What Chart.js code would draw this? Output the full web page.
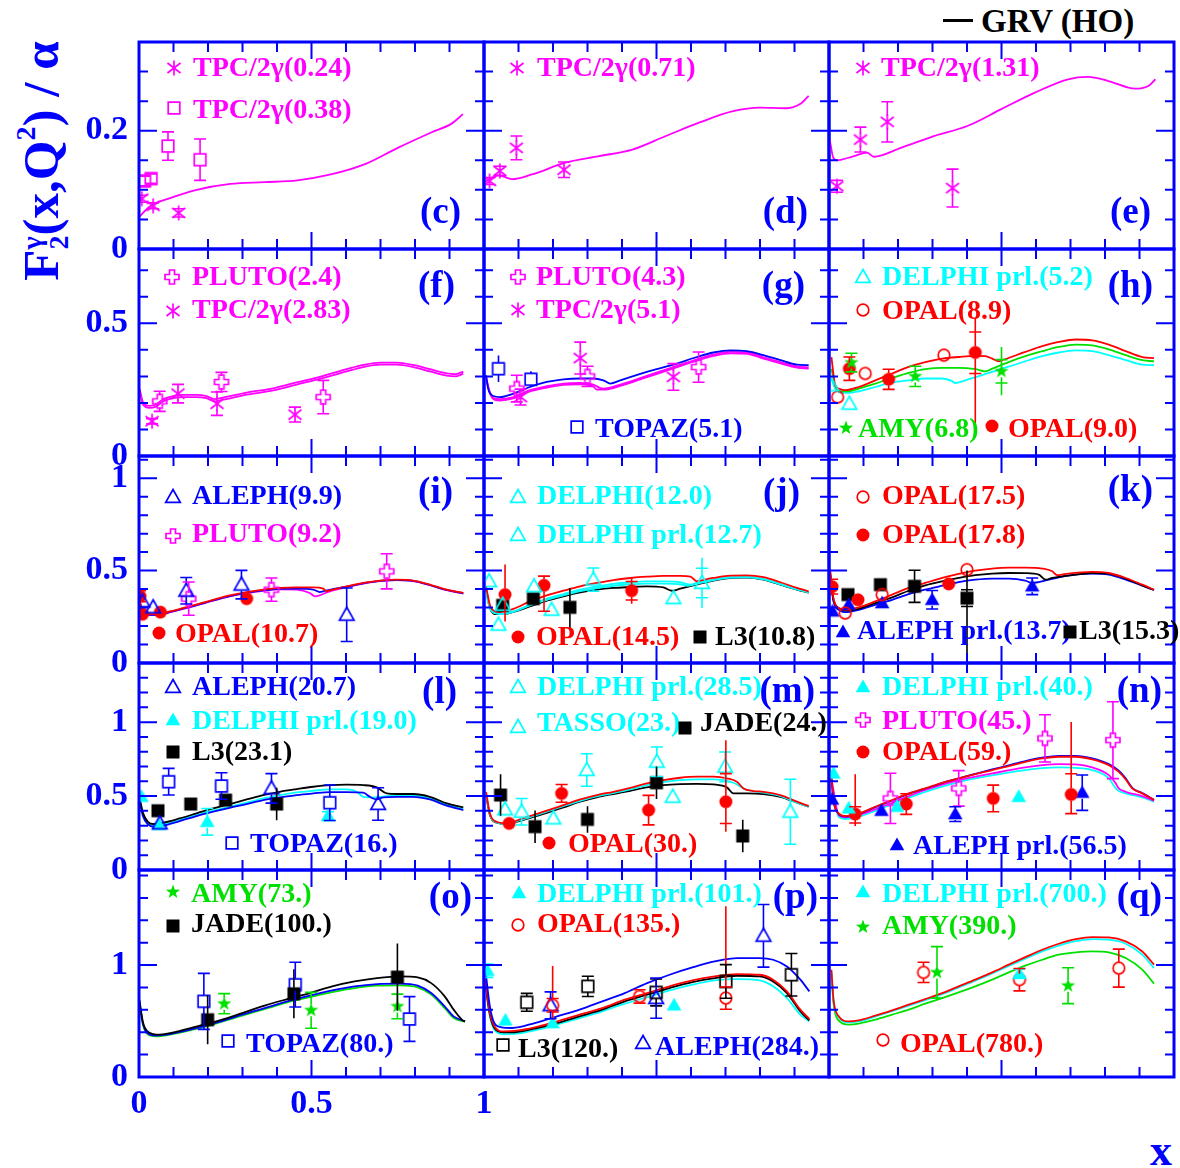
<!DOCTYPE html>
<html>
<head>
<meta charset="utf-8">
<script src="https://cdn.jsdelivr.net/npm/chart.js"></script>
<style>
body { margin: 0; background: #fff; }
#wrap { position: relative; width: 1180px; height: 1168px; overflow: hidden; background: #fff; }
#wrap canvas { position: absolute; }
.txt { position: absolute; white-space: nowrap; font-family: "Liberation Serif", "Times New Roman", serif; font-weight: bold; }
#ytitle { left: 42px; top: 161px; transform: translate(-50%, -50%) rotate(-90deg); font-size: 51px; color: #0000ff; }
#ytitle .ss { display: inline-block; font-size: 0.55em; line-height: 0.95; vertical-align: -0.35em; }
#ytitle .ss span { display: block; }
#ytitle sup { font-size: 0.55em; line-height: 0; vertical-align: 0.8em; }
#xtitle { left: 1161px; top: 1150px; transform: translate(-50%, -50%); font-size: 44px; color: #0000ff; }
#grvline { position: absolute; left: 943px; top: 19px; width: 30px; height: 3px; background: #000; }
#grvtext { left: 981px; top: 21px; transform: translateY(-50%); font-size: 33px; color: #000; }
</style>
</head>
<body>
<div id="wrap">
  <div class="txt" id="ytitle">F<span class="ss"><span>γ</span><span>2</span></span>(x,Q<sup>2</sup>) / α</div>
  <div class="txt" id="xtitle">x</div>
  <div id="grvline"></div>
  <div class="txt" id="grvtext">GRV (HO)</div>
</div>
<script>
// GRV (HO) curves, [x, F2/alpha]
const grvC = [[0.002,0.055],[0.031,0.072],[0.090,0.086],[0.167,0.100],[0.265,0.110],[0.362,0.113],[0.459,0.116],[0.556,0.126],[0.653,0.143],[0.750,0.171],[0.847,0.197],[0.906,0.212],[0.939,0.228]];
const grvD = [[0.003,0.113],[0.012,0.117],[0.042,0.125],[0.081,0.118],[0.139,0.126],[0.236,0.146],[0.333,0.157],[0.430,0.168],[0.527,0.191],[0.625,0.214],[0.722,0.233],[0.800,0.239],[0.877,0.238],[0.916,0.245],[0.941,0.259]];
const grvE = [[0.002,0.185],[0.012,0.155],[0.023,0.150],[0.072,0.157],[0.110,0.163],[0.130,0.156],[0.208,0.171],[0.304,0.191],[0.401,0.208],[0.498,0.236],[0.595,0.264],[0.693,0.287],[0.751,0.291],[0.810,0.284],[0.888,0.271],[0.927,0.276],[0.946,0.287]];
const grvF1 = [[0.002,0.252],[0.012,0.201],[0.031,0.189],[0.050,0.195],[0.070,0.214],[0.099,0.226],[0.128,0.230],[0.166,0.230],[0.195,0.226],[0.220,0.214],[0.244,0.220],[0.312,0.239],[0.389,0.255],[0.457,0.277],[0.534,0.302],[0.602,0.327],[0.650,0.343],[0.698,0.352],[0.747,0.352],[0.795,0.343],[0.843,0.327],[0.892,0.311],[0.916,0.308],[0.940,0.318]];
const grvF2 = [[0.002,0.244],[0.012,0.193],[0.031,0.181],[0.050,0.187],[0.070,0.206],[0.099,0.218],[0.128,0.222],[0.166,0.222],[0.195,0.218],[0.220,0.206],[0.244,0.212],[0.312,0.231],[0.389,0.247],[0.457,0.269],[0.534,0.294],[0.602,0.319],[0.650,0.335],[0.698,0.344],[0.747,0.344],[0.795,0.335],[0.843,0.319],[0.892,0.303],[0.916,0.300],[0.940,0.310]];
const grvGblue = [[0.006,0.304],[0.012,0.254],[0.027,0.226],[0.046,0.222],[0.085,0.235],[0.133,0.260],[0.182,0.279],[0.230,0.289],[0.279,0.292],[0.317,0.292],[0.346,0.285],[0.366,0.273],[0.395,0.285],[0.472,0.317],[0.549,0.344],[0.617,0.373],[0.665,0.390],[0.714,0.398],[0.762,0.395],[0.810,0.380],[0.859,0.361],[0.907,0.344],[0.941,0.342]];
const grvGmag1 = [[0.006,0.298],[0.017,0.241],[0.032,0.216],[0.046,0.214],[0.085,0.222],[0.133,0.248],[0.182,0.263],[0.230,0.273],[0.279,0.275],[0.317,0.269],[0.337,0.256],[0.346,0.254],[0.395,0.269],[0.472,0.302],[0.549,0.335],[0.617,0.364],[0.665,0.382],[0.714,0.392],[0.762,0.390],[0.810,0.372],[0.859,0.354],[0.907,0.338],[0.941,0.334]];
const grvGmag2 = [[0.006,0.292],[0.017,0.236],[0.032,0.211],[0.046,0.209],[0.085,0.217],[0.133,0.243],[0.182,0.258],[0.230,0.268],[0.279,0.270],[0.317,0.262],[0.327,0.250],[0.346,0.250],[0.395,0.264],[0.472,0.297],[0.549,0.330],[0.617,0.359],[0.665,0.377],[0.714,0.387],[0.762,0.385],[0.810,0.367],[0.859,0.349],[0.907,0.333],[0.941,0.329]];
const grvHred = [[0.007,0.373],[0.018,0.266],[0.028,0.254],[0.047,0.248],[0.086,0.260],[0.134,0.285],[0.183,0.311],[0.231,0.336],[0.279,0.354],[0.328,0.367],[0.376,0.373],[0.424,0.377],[0.453,0.376],[0.473,0.367],[0.492,0.357],[0.502,0.361],[0.569,0.392],[0.618,0.414],[0.666,0.430],[0.715,0.439],[0.763,0.436],[0.811,0.420],[0.860,0.395],[0.908,0.373],[0.942,0.369]];
const grvHgreen = [[0.007,0.329],[0.018,0.266],[0.033,0.244],[0.057,0.244],[0.086,0.254],[0.134,0.273],[0.183,0.294],[0.231,0.313],[0.279,0.327],[0.328,0.332],[0.376,0.332],[0.424,0.327],[0.453,0.319],[0.473,0.329],[0.521,0.354],[0.569,0.376],[0.618,0.395],[0.666,0.411],[0.715,0.420],[0.763,0.417],[0.811,0.402],[0.860,0.380],[0.908,0.361],[0.942,0.357]];
const grvHcyan = [[0.007,0.292],[0.018,0.254],[0.038,0.238],[0.057,0.238],[0.086,0.244],[0.134,0.260],[0.183,0.277],[0.231,0.285],[0.279,0.292],[0.328,0.292],[0.357,0.282],[0.366,0.275],[0.395,0.285],[0.473,0.317],[0.569,0.357],[0.618,0.376],[0.666,0.390],[0.715,0.398],[0.763,0.395],[0.811,0.380],[0.860,0.361],[0.908,0.344],[0.942,0.342]];
const grvIred = [[0.002,0.333],[0.012,0.279],[0.031,0.264],[0.060,0.264],[0.089,0.279],[0.147,0.306],[0.215,0.342],[0.263,0.366],[0.312,0.384],[0.360,0.397],[0.408,0.406],[0.457,0.409],[0.505,0.409],[0.534,0.402],[0.544,0.388],[0.553,0.393],[0.602,0.415],[0.650,0.433],[0.698,0.446],[0.747,0.451],[0.795,0.446],[0.843,0.424],[0.892,0.397],[0.940,0.379]];
const grvIblue = [[0.002,0.330],[0.012,0.276],[0.031,0.261],[0.060,0.261],[0.089,0.276],[0.147,0.303],[0.215,0.339],[0.263,0.362],[0.312,0.380],[0.360,0.393],[0.408,0.401],[0.457,0.402],[0.505,0.397],[0.524,0.384],[0.534,0.388],[0.553,0.396],[0.602,0.413],[0.650,0.431],[0.698,0.444],[0.747,0.449],[0.795,0.444],[0.843,0.422],[0.892,0.395],[0.940,0.377]];
const grvImag = [[0.002,0.328],[0.012,0.274],[0.031,0.259],[0.060,0.259],[0.089,0.274],[0.147,0.301],[0.215,0.337],[0.263,0.360],[0.312,0.378],[0.360,0.391],[0.408,0.398],[0.457,0.397],[0.495,0.379],[0.510,0.361],[0.553,0.388],[0.602,0.410],[0.650,0.430],[0.698,0.443],[0.747,0.448],[0.795,0.443],[0.843,0.421],[0.892,0.394],[0.940,0.376]];
const grvJred = [[0.006,0.415],[0.017,0.315],[0.032,0.279],[0.046,0.276],[0.085,0.293],[0.133,0.333],[0.182,0.366],[0.230,0.391],[0.279,0.415],[0.327,0.433],[0.375,0.449],[0.424,0.460],[0.472,0.467],[0.520,0.471],[0.569,0.471],[0.598,0.467],[0.617,0.442],[0.627,0.446],[0.665,0.460],[0.714,0.473],[0.762,0.474],[0.810,0.464],[0.859,0.437],[0.907,0.406],[0.941,0.388]];
const grvJcyan1 = [[0.006,0.388],[0.017,0.301],[0.037,0.270],[0.056,0.266],[0.085,0.279],[0.133,0.315],[0.182,0.348],[0.230,0.373],[0.279,0.397],[0.327,0.413],[0.375,0.428],[0.424,0.437],[0.472,0.442],[0.520,0.442],[0.569,0.437],[0.598,0.424],[0.617,0.433],[0.665,0.451],[0.714,0.464],[0.762,0.466],[0.810,0.455],[0.859,0.428],[0.907,0.400],[0.941,0.384]];
const grvJcyan2 = [[0.006,0.380],[0.017,0.297],[0.037,0.267],[0.056,0.264],[0.085,0.277],[0.133,0.311],[0.182,0.342],[0.230,0.366],[0.279,0.389],[0.327,0.405],[0.375,0.418],[0.424,0.426],[0.472,0.430],[0.520,0.430],[0.569,0.426],[0.589,0.418],[0.608,0.424],[0.665,0.449],[0.714,0.462],[0.762,0.464],[0.810,0.453],[0.859,0.426],[0.907,0.398],[0.941,0.382]];
const grvJblack = [[0.006,0.397],[0.017,0.297],[0.037,0.264],[0.056,0.264],[0.085,0.276],[0.133,0.306],[0.182,0.337],[0.230,0.361],[0.279,0.382],[0.327,0.397],[0.375,0.406],[0.424,0.411],[0.472,0.415],[0.520,0.409],[0.544,0.391],[0.569,0.402],[0.617,0.424],[0.665,0.446],[0.714,0.460],[0.762,0.462],[0.810,0.451],[0.859,0.424],[0.907,0.397],[0.941,0.380]];
const grvKred = [[0.004,0.496],[0.013,0.351],[0.028,0.297],[0.047,0.288],[0.086,0.301],[0.134,0.333],[0.183,0.370],[0.231,0.406],[0.279,0.433],[0.328,0.460],[0.376,0.482],[0.424,0.500],[0.473,0.511],[0.521,0.516],[0.569,0.516],[0.618,0.511],[0.647,0.496],[0.661,0.475],[0.686,0.482],[0.763,0.493],[0.811,0.487],[0.860,0.460],[0.908,0.424],[0.942,0.397]];
const grvKblack = [[0.004,0.478],[0.013,0.342],[0.033,0.293],[0.047,0.283],[0.086,0.293],[0.134,0.324],[0.183,0.355],[0.231,0.391],[0.279,0.420],[0.328,0.442],[0.376,0.460],[0.424,0.475],[0.473,0.484],[0.521,0.487],[0.569,0.486],[0.608,0.478],[0.628,0.451],[0.647,0.460],[0.715,0.478],[0.763,0.487],[0.811,0.484],[0.860,0.457],[0.908,0.420],[0.942,0.395]];
const grvKblue = [[0.004,0.460],[0.013,0.333],[0.033,0.283],[0.047,0.275],[0.086,0.288],[0.134,0.315],[0.183,0.342],[0.231,0.373],[0.279,0.397],[0.328,0.418],[0.376,0.438],[0.424,0.451],[0.473,0.457],[0.521,0.457],[0.569,0.446],[0.589,0.433],[0.608,0.438],[0.666,0.464],[0.715,0.478],[0.763,0.484],[0.811,0.478],[0.860,0.451],[0.908,0.418],[0.942,0.395]];
const grvLblack = [[0.002,0.484],[0.012,0.383],[0.026,0.326],[0.041,0.311],[0.070,0.320],[0.118,0.349],[0.167,0.383],[0.215,0.417],[0.263,0.446],[0.312,0.477],[0.360,0.507],[0.408,0.529],[0.457,0.547],[0.505,0.563],[0.553,0.574],[0.602,0.577],[0.650,0.574],[0.689,0.559],[0.718,0.518],[0.747,0.514],[0.795,0.514],[0.843,0.495],[0.892,0.450],[0.940,0.423]];
const grvLblue = [[0.002,0.462],[0.012,0.360],[0.026,0.309],[0.041,0.293],[0.070,0.299],[0.118,0.331],[0.167,0.365],[0.215,0.394],[0.263,0.421],[0.312,0.446],[0.360,0.473],[0.408,0.491],[0.457,0.507],[0.505,0.518],[0.553,0.527],[0.602,0.527],[0.650,0.523],[0.669,0.495],[0.689,0.477],[0.708,0.491],[0.747,0.495],[0.795,0.495],[0.843,0.477],[0.892,0.435],[0.940,0.405]];
const grvLcyan = [[0.002,0.473],[0.012,0.372],[0.026,0.315],[0.041,0.299],[0.070,0.306],[0.118,0.338],[0.167,0.372],[0.215,0.401],[0.263,0.428],[0.312,0.455],[0.360,0.484],[0.408,0.507],[0.457,0.525],[0.505,0.536],[0.553,0.545],[0.602,0.545],[0.631,0.529],[0.650,0.495],[0.679,0.491],[0.747,0.505],[0.795,0.505],[0.843,0.486],[0.892,0.444],[0.940,0.412]];
const grvMred = [[0.006,0.529],[0.017,0.383],[0.037,0.326],[0.066,0.315],[0.104,0.342],[0.182,0.401],[0.230,0.439],[0.279,0.477],[0.327,0.507],[0.375,0.529],[0.424,0.556],[0.472,0.586],[0.520,0.608],[0.569,0.624],[0.617,0.631],[0.665,0.631],[0.704,0.620],[0.733,0.597],[0.752,0.552],[0.781,0.534],[0.810,0.529],[0.859,0.507],[0.907,0.462],[0.941,0.432]];
const grvMcyan = [[0.006,0.518],[0.017,0.377],[0.037,0.322],[0.066,0.311],[0.104,0.337],[0.182,0.395],[0.230,0.432],[0.279,0.468],[0.327,0.498],[0.375,0.520],[0.424,0.545],[0.472,0.574],[0.520,0.594],[0.569,0.608],[0.617,0.613],[0.665,0.613],[0.723,0.590],[0.762,0.541],[0.810,0.523],[0.859,0.500],[0.907,0.455],[0.941,0.428]];
const grvMblack = [[0.006,0.507],[0.017,0.372],[0.037,0.320],[0.066,0.311],[0.104,0.333],[0.182,0.387],[0.230,0.423],[0.279,0.462],[0.327,0.491],[0.375,0.514],[0.424,0.536],[0.472,0.559],[0.520,0.574],[0.569,0.581],[0.617,0.583],[0.665,0.579],[0.704,0.559],[0.723,0.518],[0.762,0.518],[0.810,0.514],[0.859,0.495],[0.907,0.455],[0.941,0.428]];
const grvNred = [[0.007,0.631],[0.013,0.473],[0.028,0.383],[0.047,0.365],[0.076,0.372],[0.134,0.428],[0.183,0.473],[0.231,0.518],[0.279,0.552],[0.328,0.590],[0.376,0.620],[0.424,0.649],[0.473,0.676],[0.521,0.703],[0.569,0.732],[0.618,0.755],[0.666,0.766],[0.715,0.766],[0.763,0.748],[0.811,0.709],[0.840,0.664],[0.860,0.613],[0.879,0.552],[0.908,0.518],[0.942,0.473]];
const grvNblue = [[0.007,0.620],[0.013,0.470],[0.028,0.380],[0.047,0.362],[0.076,0.370],[0.134,0.425],[0.183,0.470],[0.231,0.515],[0.279,0.550],[0.328,0.588],[0.376,0.620],[0.424,0.650],[0.473,0.680],[0.521,0.708],[0.569,0.737],[0.618,0.760],[0.666,0.772],[0.715,0.772],[0.763,0.755],[0.811,0.716],[0.840,0.672],[0.860,0.620],[0.879,0.556],[0.908,0.520],[0.942,0.475]];
const grvNmag = [[0.007,0.620],[0.028,0.372],[0.047,0.356],[0.086,0.372],[0.183,0.455],[0.279,0.541],[0.376,0.608],[0.473,0.653],[0.569,0.694],[0.618,0.709],[0.666,0.716],[0.715,0.714],[0.763,0.694],[0.811,0.642],[0.831,0.586],[0.840,0.552],[0.860,0.529],[0.908,0.500],[0.942,0.468]];
const grvNcyan = [[0.007,0.608],[0.028,0.360],[0.047,0.345],[0.086,0.360],[0.183,0.446],[0.279,0.529],[0.376,0.595],[0.473,0.640],[0.569,0.676],[0.618,0.689],[0.666,0.694],[0.715,0.691],[0.763,0.676],[0.811,0.620],[0.831,0.552],[0.840,0.534],[0.860,0.518],[0.908,0.491],[0.942,0.462]];
const grvOblack = [[0.001,0.691],[0.012,0.482],[0.032,0.393],[0.051,0.379],[0.090,0.393],[0.169,0.453],[0.234,0.506],[0.299,0.571],[0.364,0.638],[0.430,0.696],[0.495,0.750],[0.560,0.810],[0.625,0.854],[0.690,0.884],[0.756,0.899],[0.808,0.890],[0.847,0.839],[0.886,0.721],[0.912,0.602],[0.938,0.506],[0.945,0.497]];
const grvOblue = [[0.001,0.676],[0.012,0.468],[0.032,0.379],[0.051,0.370],[0.090,0.384],[0.169,0.438],[0.234,0.494],[0.299,0.557],[0.364,0.616],[0.430,0.676],[0.495,0.727],[0.560,0.774],[0.625,0.810],[0.690,0.830],[0.756,0.834],[0.808,0.816],[0.847,0.750],[0.886,0.631],[0.912,0.542],[0.945,0.497]];
const grvOgreen = [[0.001,0.667],[0.012,0.459],[0.032,0.372],[0.051,0.363],[0.090,0.379],[0.169,0.432],[0.234,0.488],[0.299,0.548],[0.364,0.607],[0.430,0.667],[0.495,0.714],[0.560,0.759],[0.625,0.795],[0.690,0.816],[0.756,0.819],[0.808,0.801],[0.847,0.736],[0.886,0.616],[0.912,0.527],[0.945,0.494]];
const grvPblue = [[0.003,0.988],[0.017,0.631],[0.030,0.482],[0.049,0.446],[0.082,0.438],[0.147,0.482],[0.212,0.542],[0.277,0.602],[0.343,0.676],[0.408,0.750],[0.473,0.839],[0.538,0.914],[0.604,0.979],[0.669,1.033],[0.734,1.063],[0.799,1.063],[0.838,1.048],[0.878,0.988],[0.917,0.870],[0.943,0.765]];
const grvPred = [[0.003,0.870],[0.017,0.571],[0.030,0.453],[0.056,0.408],[0.095,0.414],[0.147,0.444],[0.212,0.497],[0.277,0.557],[0.343,0.616],[0.408,0.691],[0.473,0.750],[0.538,0.810],[0.604,0.863],[0.669,0.899],[0.734,0.920],[0.799,0.914],[0.838,0.870],[0.878,0.765],[0.917,0.602],[0.943,0.518]];
const grvPblack = [[0.003,0.854],[0.017,0.557],[0.030,0.438],[0.056,0.399],[0.095,0.402],[0.147,0.432],[0.212,0.482],[0.277,0.542],[0.343,0.602],[0.408,0.676],[0.473,0.736],[0.538,0.795],[0.604,0.848],[0.669,0.884],[0.734,0.905],[0.799,0.899],[0.838,0.854],[0.878,0.750],[0.917,0.587],[0.943,0.506]];
const grvPcyan = [[0.003,0.839],[0.017,0.542],[0.030,0.423],[0.056,0.384],[0.095,0.388],[0.147,0.417],[0.212,0.468],[0.277,0.527],[0.343,0.587],[0.408,0.655],[0.473,0.714],[0.538,0.774],[0.604,0.825],[0.669,0.863],[0.734,0.875],[0.799,0.863],[0.838,0.810],[0.878,0.705],[0.917,0.557],[0.943,0.497]];
const grvQred = [[0.007,0.959],[0.013,0.691],[0.028,0.542],[0.057,0.497],[0.086,0.506],[0.134,0.548],[0.183,0.596],[0.231,0.646],[0.279,0.696],[0.328,0.750],[0.376,0.810],[0.424,0.870],[0.473,0.935],[0.521,1.004],[0.569,1.071],[0.618,1.137],[0.666,1.191],[0.715,1.232],[0.763,1.250],[0.811,1.247],[0.860,1.212],[0.908,1.122],[0.942,1.004]];
const grvQcyan = [[0.007,0.940],[0.013,0.680],[0.028,0.535],[0.057,0.488],[0.086,0.497],[0.134,0.540],[0.183,0.588],[0.231,0.637],[0.279,0.687],[0.328,0.740],[0.376,0.800],[0.424,0.860],[0.473,0.925],[0.521,0.993],[0.569,1.058],[0.618,1.122],[0.666,1.175],[0.715,1.214],[0.763,1.232],[0.811,1.227],[0.860,1.191],[0.908,1.093],[0.942,0.973]];
const grvQgreen = [[0.007,0.929],[0.013,0.661],[0.028,0.506],[0.057,0.468],[0.086,0.477],[0.134,0.512],[0.183,0.557],[0.231,0.602],[0.279,0.655],[0.328,0.705],[0.376,0.756],[0.424,0.810],[0.473,0.870],[0.521,0.935],[0.569,0.995],[0.618,1.048],[0.666,1.093],[0.715,1.113],[0.763,1.122],[0.811,1.113],[0.860,1.063],[0.908,0.959],[0.942,0.834]];

// measurements: [x, F2/alpha, errDown, errUp, capDown, capUp]
const tpc024 = [[0.008,0.085,0.006,0.006],[0.041,0.073,0.005,0.005],[0.115,0.061,0.007,0.007]];
const tpc038 = [[0.016,0.115,0.008,0.008],[0.035,0.119,0.008,0.008],[0.084,0.174,0.024,0.024],[0.177,0.151,0.035,0.035]];
const tpc071 = [[0.016,0.115,0.006,0.006],[0.046,0.132,0.008,0.008],[0.094,0.171,0.020,0.020],[0.232,0.134,0.013,0.013]];
const tpc131 = [[0.023,0.106,0.010,0.010],[0.091,0.185,0.021,0.021],[0.169,0.215,0.034,0.034],[0.358,0.103,0.032,0.032]];
const pluto24 = [[0.060,0.206,0.038,0.038],[0.239,0.279,0.036,0.036],[0.534,0.222,0.063,0.063]];
const tpc283 = [[0.038,0.131,0.010,0.010],[0.113,0.235,0.035,0.035],[0.226,0.197,0.044,0.044],[0.452,0.156,0.028,0.028]];
const pluto43 = [[0.095,0.254,0.05,0.05],[0.300,0.300,0.038,0.038],[0.622,0.335,0.057,0.057]];
const tpc51 = [[0.106,0.222,0.03,0.03],[0.279,0.369,0.06,0.06],[0.549,0.298,0.05,0.05]];
const topaz51 = [[0.042,0.329,0.05,0.05,0,0],[0.136,0.289,0.03,0.03,0,0]];
const delphi52 = [[0.007,0.266],[0.059,0.197]];
const opal89 = [[0.025,0.222],[0.105,0.311],[0.333,0.380]];
const opal90 = [[0.059,0.329,0.044,0.044],[0.173,0.289,0.038,0.038],[0.424,0.390,0.274,0.128,0.079,0.077]];
const amy68 = [[0.065,0.352,0.035,0.035],[0.250,0.300,0.038,0.038],[0.500,0.319,0.090,0.092,0.044,0.044]];
const aleph99 = [[0.010,0.333],[0.041,0.301],[0.137,0.391,0.072,0.072],[0.297,0.424,0.077,0.077],[0.602,0.261,0.145,0.145]];
const pluto92 = [[0.144,0.348,0.09,0.09],[0.384,0.397,0.063,0.063],[0.718,0.496,0.095,0.095]];
const opal107 = [[0.003,0.361,0.03,0.03],[0.010,0.264],[0.062,0.275],[0.312,0.348]];
const delphi120 = [[0.015,0.442],[0.042,0.207],[0.145,0.415],[0.196,0.288],[0.549,0.351]];
const delphi127 = [[0.054,0.315],[0.317,0.451,0.063,0.063],[0.632,0.433,0.136,0.136,0.08,0.08]];
const opal145 = [[0.061,0.370,0.145,0.163,0,0],[0.174,0.420,0.14,0.05],[0.428,0.391,0.07,0.07,0.05,0.05]];
const l3108 = [[0.054,0.312],[0.143,0.348],[0.249,0.301,0.113,0.105,0,0]];
const opal175 = [[0.047,0.270],[0.154,0.370],[0.400,0.505]];
const opal178 = [[0.009,0.413,0.04,0.04],[0.084,0.342],[0.347,0.428]];
const aleph137 = [[0.010,0.279],[0.057,0.315],[0.154,0.324],[0.299,0.342,0.05,0.05],[0.589,0.415,0.045,0.045]];
const l3153 = [[0.055,0.370],[0.149,0.424],[0.248,0.415,0.087,0.087],[0.400,0.351,0.31,0.15,0.045,0.045]];
const aleph207 = [[0.060,0.315],[0.384,0.552,0.1,0.1],[0.693,0.446,0.11,0.11]];
const delphi190 = [[0.007,0.495],[0.058,0.304],[0.198,0.326,0.09,0.09],[0.548,0.365,0.03,0.03]];
const l3231 = [[0.055,0.401],[0.150,0.446,0.03,0.03,0,0],[0.251,0.473],[0.399,0.446,0.11,0.11,0,0]];
const topaz16 = [[0.086,0.597,0.09,0.09],[0.239,0.568,0.09,0.09],[0.553,0.455,0.12,0.12]];
const delphi285 = [[0.109,0.394,0.09,0.09],[0.298,0.676,0.11,0.11],[0.501,0.732,0.1,0.1],[0.699,0.698,0.1,0.1],[0.888,0.394,0.22,0.22]];
const tasso23 = [[0.061,0.410],[0.201,0.349],[0.547,0.495]];
const jade24 = [[0.048,0.507,0.14,0.14],[0.148,0.293,0.11,0.11],[0.300,0.342,0.09,0.09],[0.500,0.590,0.11,0.11],[0.750,0.230,0.11,0.11]];
const opal30 = [[0.073,0.315],[0.225,0.518,0.06,0.06],[0.477,0.405,0.1,0.1],[0.701,0.462,0.203,0.416,0.147,0.19]];
const delphi40 = [[0.013,0.653],[0.057,0.417],[0.197,0.428],[0.550,0.495]];
const pluto45 = [[0.178,0.484,0.17,0.17],[0.376,0.552,0.12,0.12],[0.626,0.890,0.16,0.16],[0.823,0.878,0.26,0.26]];
const opal59 = [[0.076,0.378,0.08,0.27,0.06,0.05],[0.224,0.446,0.07,0.07],[0.476,0.484,0.09,0.09],[0.702,0.511,0.13,0.49,0.13,0.14]];
const aleph565 = [[0.009,0.477],[0.152,0.401],[0.366,0.378,0.05,0.05],[0.734,0.523,0.12,0.12]];
const amy73 = [[0.247,0.655,0.09,0.09],[0.499,0.596,0.16,0.16],[0.749,0.631,0.11,0.11]];
const jade100 = [[0.199,0.512,0.22,0.22],[0.449,0.744,0.22,0.22],[0.749,0.893,0.3,0.3]];
const topaz80 = [[0.188,0.676,0.25,0.25],[0.453,0.825,0.2,0.2],[0.784,0.518,0.2,0.2]];
const delphi101 = [[0.010,0.950,0.06,0.06],[0.062,0.506],[0.199,0.482],[0.551,0.641]];
const opal135 = [[0.199,0.641,0.13,0.35,0.06,0.06],[0.451,0.720,0.06,0.06],[0.701,0.705,0.10,0.82,0.10,0.10]];
const l3120 = [[0.124,0.667,0.08,0.08],[0.301,0.810,0.09,0.09],[0.499,0.756,0.12,0.12],[0.701,0.854,0.15,0.15],[0.891,0.914,0.19,0.19]];
const aleph284 = [[0.193,0.641,0.12,0.12],[0.499,0.705,0.18,0.18],[0.810,1.262,0.28,0.28]];
const delphi700 = [[0.552,0.923,0.04,0.04]];
const amy390 = [[0.313,0.935,0.23,0.23],[0.693,0.816,0.16,0.16]];
const opal780 = [[0.274,0.935,0.09,0.09],[0.552,0.870,0.1,0.1],[0.840,0.973,0.17,0.17]];

// axes, one entry per row of panels
const yMax = [0.35, 0.78, 1.12, 1.40, 1.85];
const yStep = [0.05, 0.1, 0.1, 0.1, 0.2];
const yBig = [0.2, 0.5, 0.5, 0.5, 1];
const yLabels = [['0', '0.2'], ['0', '0.5'], ['0', '0.5', '1'], ['0', '0.5', '1'], ['0', '1']];
const xLabels = ['0', '0.5', '1'];

const BLU = '#0000ff', RED = '#ff0000', MAG = '#ff00ff', CYA = '#00ffff', GRN = '#00e000', BLK = '#000000';
const SERIF = '"Liberation Serif", "Times New Roman", serif';
const PX0 = 139, PY0 = 42, PW = 345, PH = 207;

const panels = [
  { tag: '(c)', row: 0, col: 0, tagAt: [322, 171], curves: [[grvC, MAG]], sets: [
    { d: tpc024, name: 'TPC/2γ(0.24)', mk: 'aster', c: MAG, leg: [35, 26, 54, 27] },
    { d: tpc038, name: 'TPC/2γ(0.38)', mk: 'square', c: MAG, leg: [35, 66, 54, 69] }] },
  { tag: '(d)', row: 0, col: 1, tagAt: [324, 171], curves: [[grvD, MAG]], sets: [
    { d: tpc071, name: 'TPC/2γ(0.71)', mk: 'aster', c: MAG, leg: [33, 26, 53, 27] }] },
  { tag: '(e)', row: 0, col: 2, tagAt: [322, 171], curves: [[grvE, MAG]], sets: [
    { d: tpc131, name: 'TPC/2γ(1.31)', mk: 'aster', c: MAG, leg: [34, 26, 52, 27] }] },
  { tag: '(f)', row: 1, col: 0, tagAt: [316, 38], curves: [[grvF1, MAG], [grvF2, MAG]], sets: [
    { d: pluto24, name: 'PLUTO(2.4)', mk: 'pcross', c: MAG, leg: [33, 28, 53, 29] },
    { d: tpc283, name: 'TPC/2γ(2.83)', mk: 'aster', c: MAG, leg: [34, 62, 53, 62] }] },
  { tag: '(g)', row: 1, col: 1, tagAt: [321, 38], curves: [[grvGblue, BLU], [grvGmag1, MAG], [grvGmag2, MAG]], sets: [
    { d: pluto43, name: 'PLUTO(4.3)', mk: 'pcross', c: MAG, leg: [34, 28, 52, 29] },
    { d: tpc51, name: 'TPC/2γ(5.1)', mk: 'aster', c: MAG, leg: [34, 61, 52, 62] },
    { d: topaz51, name: 'TOPAZ(5.1)', mk: 'square', c: BLU, leg: [93, 178, 111, 181] }] },
  { tag: '(h)', row: 1, col: 2, tagAt: [324, 38], curves: [[grvHred, RED], [grvHgreen, GRN], [grvHcyan, CYA]], sets: [
    { d: delphi52, name: 'DELPHI prl.(5.2)', mk: 'tri', c: CYA, leg: [34, 28, 53, 29] },
    { d: opal89, name: 'OPAL(8.9)', mk: 'circle', c: RED, leg: [34, 61, 53, 63] },
    { d: amy68, name: 'AMY(6.8)', mk: 'star', c: GRN, leg: [17, 179, 29, 181] },
    { d: opal90, name: 'OPAL(9.0)', mk: 'dot', c: RED, leg: [163, 177, 179, 181] }] },
  { tag: '(i)', row: 2, col: 0, tagAt: [314, 37], curves: [[grvIred, RED], [grvIblue, BLU], [grvImag, MAG]], sets: [
    { d: aleph99, name: 'ALEPH(9.9)', mk: 'tri', c: BLU, leg: [34, 41, 53, 41] },
    { d: pluto92, name: 'PLUTO(9.2)', mk: 'pcross', c: MAG, leg: [34, 80, 53, 79] },
    { d: opal107, name: 'OPAL(10.7)', mk: 'dot', c: RED, leg: [20, 177, 36, 179] }] },
  { tag: '(j)', row: 2, col: 1, tagAt: [316, 38], curves: [[grvJred, RED], [grvJcyan1, CYA], [grvJcyan2, CYA], [grvJblack, BLK]], sets: [
    { d: delphi120, name: 'DELPHI(12.0)', mk: 'tri', c: CYA, leg: [34, 41, 53, 41] },
    { d: delphi127, name: 'DELPHI prl.(12.7)', mk: 'tri', c: CYA, leg: [34, 79, 53, 80] },
    { d: opal145, name: 'OPAL(14.5)', mk: 'dot', c: RED, leg: [34, 181, 52, 182] },
    { d: l3108, name: 'L3(10.8)', mk: 'box', c: BLK, leg: [216, 181, 231, 182] }] },
  { tag: '(k)', row: 2, col: 2, tagAt: [324, 35], curves: [[grvKred, RED], [grvKblack, BLK], [grvKblue, BLU]], sets: [
    { d: opal175, name: 'OPAL(17.5)', mk: 'circle', c: RED, leg: [34, 41, 53, 41] },
    { d: opal178, name: 'OPAL(17.8)', mk: 'dot', c: RED, leg: [34, 79, 53, 80] },
    { d: aleph137, name: 'ALEPH prl.(13.7)', mk: 'trifill', c: BLU, leg: [14, 176, 28, 176] },
    { d: l3153, name: 'L3(15.3)', mk: 'box', c: BLK, leg: [241, 176, 250, 176] }] },
  { tag: '(l)', row: 3, col: 0, tagAt: [318, 30], curves: [[grvLblack, BLK], [grvLblue, BLU], [grvLcyan, CYA]], sets: [
    { d: aleph207, name: 'ALEPH(20.7)', mk: 'tri', c: BLU, leg: [34, 24, 53, 25] },
    { d: delphi190, name: 'DELPHI prl.(19.0)', mk: 'trifill', c: CYA, leg: [34, 57, 53, 59] },
    { d: l3231, name: 'L3(23.1)', mk: 'box', c: BLK, leg: [34, 89, 53, 90] },
    { d: topaz16, name: 'TOPAZ(16.)', mk: 'square', c: BLU, leg: [93, 180, 111, 182] }] },
  { tag: '(m)', row: 3, col: 1, tagAt: [331, 29], curves: [[grvMred, RED], [grvMcyan, CYA], [grvMblack, BLK]], sets: [
    { d: delphi285, name: 'DELPHI prl.(28.5)', mk: 'tri', c: CYA, leg: [34, 24, 53, 25] },
    { d: tasso23, name: 'TASSO(23.)', mk: 'tri', c: CYA, leg: [34, 64, 53, 61] },
    { d: jade24, name: 'JADE(24.)', mk: 'box', c: BLK, leg: [201, 65, 216, 61], caps: false },
    { d: opal30, name: 'OPAL(30.)', mk: 'dot', c: RED, leg: [65, 180, 84, 182] }] },
  { tag: '(n)', row: 3, col: 2, tagAt: [333, 29], curves: [[grvNred, RED], [grvNblue, BLU], [grvNmag, MAG], [grvNcyan, CYA]], sets: [
    { d: delphi40, name: 'DELPHI prl.(40.)', mk: 'trifill', c: CYA, leg: [34, 24, 53, 25] },
    { d: pluto45, name: 'PLUTO(45.)', mk: 'pcross', c: MAG, leg: [34, 57, 53, 59] },
    { d: opal59, name: 'OPAL(59.)', mk: 'dot', c: RED, leg: [34, 89, 53, 90] },
    { d: aleph565, name: 'ALEPH prl.(56.5)', mk: 'trifill', c: BLU, leg: [68, 182, 84, 184] }] },
  { tag: '(o)', row: 4, col: 0, tagAt: [333, 28], curves: [[grvOblack, BLK], [grvOblue, BLU], [grvOgreen, GRN]], sets: [
    { d: amy73, name: 'AMY(73.)', mk: 'star', c: GRN, leg: [34, 22, 52, 25] },
    { d: jade100, name: 'JADE(100.)', mk: 'box', c: BLK, leg: [34, 56, 52, 55], caps: false },
    { d: topaz80, name: 'TOPAZ(80.)', mk: 'square', c: BLU, leg: [89, 171, 107, 175] }] },
  { tag: '(p)', row: 4, col: 1, tagAt: [334, 28], curves: [[grvPblue, BLU], [grvPred, RED], [grvPblack, BLK], [grvPcyan, CYA]], sets: [
    { d: delphi101, name: 'DELPHI prl.(101.)', mk: 'trifill', c: CYA, leg: [35, 23, 53, 25] },
    { d: opal135, name: 'OPAL(135.)', mk: 'circle', c: RED, leg: [34, 55, 53, 55] },
    { d: l3120, name: 'L3(120.)', mk: 'square', c: BLK, leg: [19, 175, 34, 180] },
    { d: aleph284, name: 'ALEPH(284.)', mk: 'tri', c: BLU, leg: [159, 173, 171, 178] }] },
  { tag: '(q)', row: 4, col: 2, tagAt: [333, 28], curves: [[grvQred, RED], [grvQcyan, CYA], [grvQgreen, GRN]], sets: [
    { d: delphi700, name: 'DELPHI prl.(700.)', mk: 'trifill', c: CYA, leg: [34, 22, 53, 25] },
    { d: amy390, name: 'AMY(390.)', mk: 'star', c: GRN, leg: [34, 57, 53, 57] },
    { d: opal780, name: 'OPAL(780.)', mk: 'circle', c: RED, leg: [54, 170, 71, 175] }] }
];

// small canvases used as point styles
const markerCache = {};
function marker(shape, color) {
  const key = shape + color;
  if (markerCache[key]) return markerCache[key];
  const s = 20, cv = document.createElement('canvas');
  cv.width = s; cv.height = s;
  const g = cv.getContext('2d'), m = s / 2;
  g.strokeStyle = color; g.fillStyle = color; g.lineWidth = 1.7;
  g.beginPath();
  if (shape === 'circle' || shape === 'dot') {
    g.arc(m, m, shape === 'dot' ? 6.5 : 5.8, 0, Math.PI * 2);
  } else if (shape === 'square' || shape === 'box') {
    const h = shape === 'box' ? 6.5 : 5.8;
    g.rect(m - h, m - h, 2 * h, 2 * h);
  } else if (shape === 'tri' || shape === 'trifill') {
    g.moveTo(m, m - 7.5); g.lineTo(m + 7.3, m + 5.3); g.lineTo(m - 7.3, m + 5.3); g.closePath();
  } else if (shape === 'aster') {
    g.moveTo(m, m - 7.5); g.lineTo(m, m + 7.5);
    g.moveTo(m - 6.5, m - 5); g.lineTo(m + 6.5, m + 5);
    g.moveTo(m - 6.5, m + 5); g.lineTo(m + 6.5, m - 5);
  } else if (shape === 'pcross') {
    const a = 2.5, b = 7;
    g.moveTo(m - a, m - b); g.lineTo(m + a, m - b); g.lineTo(m + a, m - a); g.lineTo(m + b, m - a);
    g.lineTo(m + b, m + a); g.lineTo(m + a, m + a); g.lineTo(m + a, m + b); g.lineTo(m - a, m + b);
    g.lineTo(m - a, m + a); g.lineTo(m - b, m + a); g.lineTo(m - b, m - a); g.lineTo(m - a, m - a);
    g.closePath();
  } else if (shape === 'star') {
    for (let i = 0; i < 10; i++) {
      const r = i % 2 ? 3 : 7.5, t = -Math.PI / 2 + i * Math.PI / 5;
      g.lineTo(m + r * Math.cos(t), m + r * Math.sin(t));
    }
    g.closePath();
  }
  if (['dot', 'box', 'trifill', 'star'].includes(shape)) g.fill(); else g.stroke();
  markerCache[key] = cv;
  return cv;
}

function decoPlugin(p) {
  return {
    id: 'deco',
    afterDatasetsDraw(chart) {
      const { ctx, chartArea: a, scales: { x, y } } = chart;
      ctx.save();
      ctx.beginPath(); ctx.rect(a.left, a.top, a.right - a.left, a.bottom - a.top); ctx.clip();
      ctx.lineWidth = 1.6;
      p.sets.forEach(s => {
        ctx.strokeStyle = s.c;
        s.d.forEach(v => {
          if (v.length < 4) return;
          const px = x.getPixelForValue(v[0]), py = y.getPixelForValue(v[1]);
          const lo = y.getPixelForValue(v[1] - v[2]), hi = y.getPixelForValue(v[1] + v[3]);
          const gap = 6;
          ctx.beginPath();
          if (hi < py - gap) { ctx.moveTo(px, hi); ctx.lineTo(px, py - gap); }
          if (lo > py + gap) { ctx.moveTo(px, py + gap); ctx.lineTo(px, lo); }
          let cl = v[2], ch = v[3], caps = s.caps !== false;
          if (v.length >= 6) { cl = v[4]; ch = v[5]; caps = cl > 0 || ch > 0; }
          if (caps) {
            [y.getPixelForValue(v[1] - cl), y.getPixelForValue(v[1] + ch)].forEach(cy => {
              ctx.moveTo(px - 6, cy); ctx.lineTo(px + 6, cy);
            });
          }
          ctx.stroke();
        });
      });
      ctx.restore();
    },
    afterDraw(chart) {
      const { ctx, chartArea: a, scales: { x, y } } = chart;
      ctx.save();
      // ticks, inside the frame on all four sides
      ctx.strokeStyle = BLU; ctx.lineWidth = 2;
      ctx.beginPath();
      for (let k = 0; k <= 10; k++) {
        const px = x.getPixelForValue(k / 10), len = k % 5 === 0 ? 17 : 10;
        ctx.moveTo(px, a.bottom); ctx.lineTo(px, a.bottom - len);
        ctx.moveTo(px, a.top); ctx.lineTo(px, a.top + len);
      }
      const st = yStep[p.row], big = yBig[p.row];
      for (let k = 0; k * st <= yMax[p.row] + 1e-9; k++) {
        const v = k * st, py = y.getPixelForValue(v);
        const r = v / big, len = Math.abs(r - Math.round(r)) < 1e-6 ? 18 : 9;
        ctx.moveTo(a.left, py); ctx.lineTo(a.left + len, py);
        ctx.moveTo(a.right, py); ctx.lineTo(a.right - len, py);
      }
      ctx.stroke();
      // frame
      ctx.lineWidth = 3;
      ctx.strokeRect(a.left, a.top, a.right - a.left, a.bottom - a.top);
      // tick labels
      ctx.fillStyle = BLU;
      ctx.font = 'bold 34px ' + SERIF;
      if (p.col === 0) {
        ctx.textAlign = 'right'; ctx.textBaseline = 'middle';
        yLabels[p.row].forEach(t => ctx.fillText(t, a.left - 11, y.getPixelForValue(Number(t))));
      }
      if (p.row === 4 && p.col === 0) {
        ctx.textAlign = 'center'; ctx.textBaseline = 'middle';
        xLabels.forEach(t => ctx.fillText(t, x.getPixelForValue(Number(t)), a.bottom + 27));
      }
      // panel tag
      ctx.font = 'bold 37px ' + SERIF;
      ctx.textAlign = 'right'; ctx.textBaseline = 'middle';
      ctx.fillText(p.tag, a.left + p.tagAt[0], a.top + p.tagAt[1]);
      // legend entries
      ctx.font = 'bold 28px ' + SERIF;
      ctx.textAlign = 'left';
      p.sets.forEach(s => {
        const img = marker(s.mk, s.c);
        ctx.drawImage(img, a.left + s.leg[0] - img.width / 2, a.top + s.leg[1] - img.height / 2);
        ctx.fillStyle = s.c;
        ctx.fillText(s.name, a.left + s.leg[2], a.top + s.leg[3]);
      });
      ctx.restore();
    }
  };
}

const wrap = document.getElementById('wrap');
panels.forEach(p => {
  const pad = { left: p.col === 0 ? 80 : 12, right: 14, top: 10, bottom: p.row === 4 ? 50 : 10 };
  const w = PW + pad.left + pad.right, h = PH + pad.top + pad.bottom;
  const cv = document.createElement('canvas');
  cv.width = w; cv.height = h;
  cv.style.left = (PX0 + p.col * PW - pad.left) + 'px';
  cv.style.top = (PY0 + p.row * PH - pad.top) + 'px';
  cv.style.width = w + 'px'; cv.style.height = h + 'px';
  wrap.appendChild(cv);

  const datasets = [];
  p.sets.forEach(s => {
    datasets.push({
      data: s.d.map(v => ({ x: v[0], y: v[1] })),
      pointStyle: marker(s.mk, s.c),
      pointRadius: 7,
      borderColor: s.c,
      backgroundColor: s.c,
      showLine: false,
      order: 0
    });
  });
  p.curves.forEach(cu => {
    datasets.push({
      data: cu[0].map(v => ({ x: v[0], y: v[1] })),
      showLine: true,
      pointRadius: 0,
      borderColor: cu[1],
      borderWidth: 1.8,
      cubicInterpolationMode: 'monotone',
      fill: false,
      order: 1
    });
  });

  new Chart(cv, {
    type: 'scatter',
    data: { datasets },
    options: {
      responsive: false,
      animation: false,
      events: [],
      layout: { padding: pad },
      scales: {
        x: { type: 'linear', min: 0, max: 1, display: false },
        y: { type: 'linear', min: 0, max: yMax[p.row], display: false }
      },
      plugins: { legend: { display: false }, tooltip: { enabled: false } }
    },
    plugins: [decoPlugin(p)]
  });
});
</script>
</body>
</html>
